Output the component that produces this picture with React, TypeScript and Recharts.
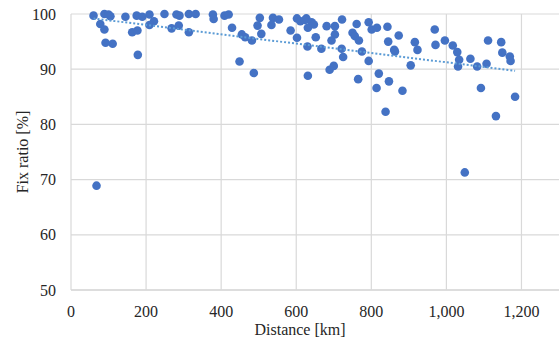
import { ScatterChart, Scatter, XAxis, YAxis, CartesianGrid } from 'recharts';

// distance [km] and fix ratio [%] per site
const distanceKm = [
  60, 89, 100, 105, 78, 89, 92, 111, 145, 163, 177, 178, 175, 190, 209, 221, 209, 249, 268, 281,
  289, 287, 314, 314, 332, 378, 380, 409, 420, 429, 449, 455, 464, 482, 487, 503, 497, 507, 538, 554,
  534, 585, 602, 611, 627, 602, 630, 631, 623, 641, 647, 631, 652, 667, 681, 703, 703, 694, 722, 721,
  725, 689, 700, 761, 750, 756, 767, 775, 765, 793, 801, 815, 793, 820, 814, 847, 838, 843, 845, 861,
  863, 873, 883, 916, 923, 905, 969, 971, 996, 1017, 1029, 1034, 1031, 1064, 1082, 1092, 1107, 1111, 1146, 1149,
  1169, 1171, 1183, 1132, 68, 1049,
];
const fixRatio = [
  99.7, 100, 99.9, 99.6, 98.2, 97.2, 94.8, 94.6, 99.5, 96.7, 97.0, 92.6, 99.7, 99.5, 99.9, 98.7, 98.0, 100, 97.4, 99.9,
  99.7, 97.9, 100, 96.7, 100, 99.9, 99.1, 99.7, 99.9, 97.5, 91.4, 96.3, 95.8, 95.2, 89.3, 99.3, 97.9, 96.4, 99.3, 99.0,
  98.0, 97.0, 99.2, 98.7, 99.2, 95.7, 94.1, 88.8, 98.9, 98.5, 98.1, 97.5, 95.8, 93.7, 97.8, 97.8, 96.3, 95.2, 99.0, 93.7,
  92.2, 89.9, 90.6, 98.2, 96.6, 96.0, 95.2, 93.2, 88.2, 98.5, 97.2, 97.5, 91.5, 89.2, 86.6, 87.8, 82.3, 97.7, 95.0, 93.5,
  93.2, 96.1, 86.1, 94.9, 93.5, 90.7, 97.2, 94.4, 95.2, 94.3, 93.1, 91.7, 90.5, 91.9, 90.5, 86.6, 91.0, 95.2, 94.9, 93.0,
  92.3, 91.5, 85.0, 81.5, 68.9, 71.3,
];

// linear trend line end points
const trendX = [60, 1183];
const trendY = [99.2, 89.7];

const xTicks = [0, 200, 400, 600, 800, 1000, 1200];
const yTicks = [50, 60, 70, 80, 90, 100];

const points = distanceKm.map((d, i) => ({ x: d, y: fixRatio[i] }));
const trend = trendX.map((d, i) => ({ x: d, y: trendY[i] }));

const font = '"Liberation Serif", "Times New Roman", serif';
const textColor = '#262626';
const gridColor = '#d9d9d9';

const XTick = ({ x, y, payload }: any) => (
  <text x={x} y={y} dy="0.71em" textAnchor="middle" fontFamily={font} fontSize={16} fill={textColor}>
    {Number(payload.value).toLocaleString('en-US')}
  </text>
);

const YTick = ({ x, y, payload }: any) => (
  <text x={x} y={y} dy="0.355em" textAnchor="end" fontFamily={font} fontSize={16} fill={textColor}>
    {payload.value}
  </text>
);

const XTitle = ({ viewBox }: any) => (
  <text x={viewBox.x + viewBox.width / 2 - 15} y={335} textAnchor="middle" fontFamily={font} fontSize={16} fill={textColor}>
    Distance [km]
  </text>
);

const YTitle = ({ viewBox }: any) => {
  const cx = 22;
  const cy = viewBox.y + viewBox.height / 2;
  return (
    <text
      x={cx}
      y={cy}
      transform={`rotate(-90 ${cx} ${cy})`}
      textAnchor="middle"
      dominantBaseline="central"
      fontFamily={font}
      fontSize={16}
      fill={textColor}
    >
      Fix ratio [%]
    </text>
  );
};

export default function App() {
  return (
    <div style={{ position: 'absolute', left: 0, top: 0, width: 560, height: 345, background: '#fff', fontFamily: font }}>
      <ScatterChart width={560} height={345} margin={{ top: 14, right: 1, bottom: 0, left: 0 }}>
        <CartesianGrid stroke={gridColor} strokeWidth={1.2} verticalValues={xTicks} horizontalValues={yTicks} />
        <XAxis
          type="number"
          dataKey="x"
          domain={[0, 1300]}
          ticks={xTicks}
          height={55}
          tickLine={false}
          tickMargin={10}
          axisLine={{ stroke: gridColor, strokeWidth: 1.5 }}
          tick={<XTick />}
          label={<XTitle />}
        />
        <YAxis
          type="number"
          dataKey="y"
          domain={[50, 100]}
          ticks={yTicks}
          width={71}
          tickLine={false}
          tickMargin={9}
          axisLine={false}
          tick={<YTick />}
          label={<YTitle />}
        />
        <Scatter
          data={points}
          isAnimationActive={false}
          shape={(p: any) => <circle cx={p.cx} cy={p.cy} r={4.3} fill="#4472C4" />}
        />
        <Scatter
          data={trend}
          isAnimationActive={false}
          line={{ stroke: '#5B9BD5', strokeWidth: 2, strokeDasharray: '2 2' }}
          shape={() => <g />}
        />
      </ScatterChart>
    </div>
  );
}
